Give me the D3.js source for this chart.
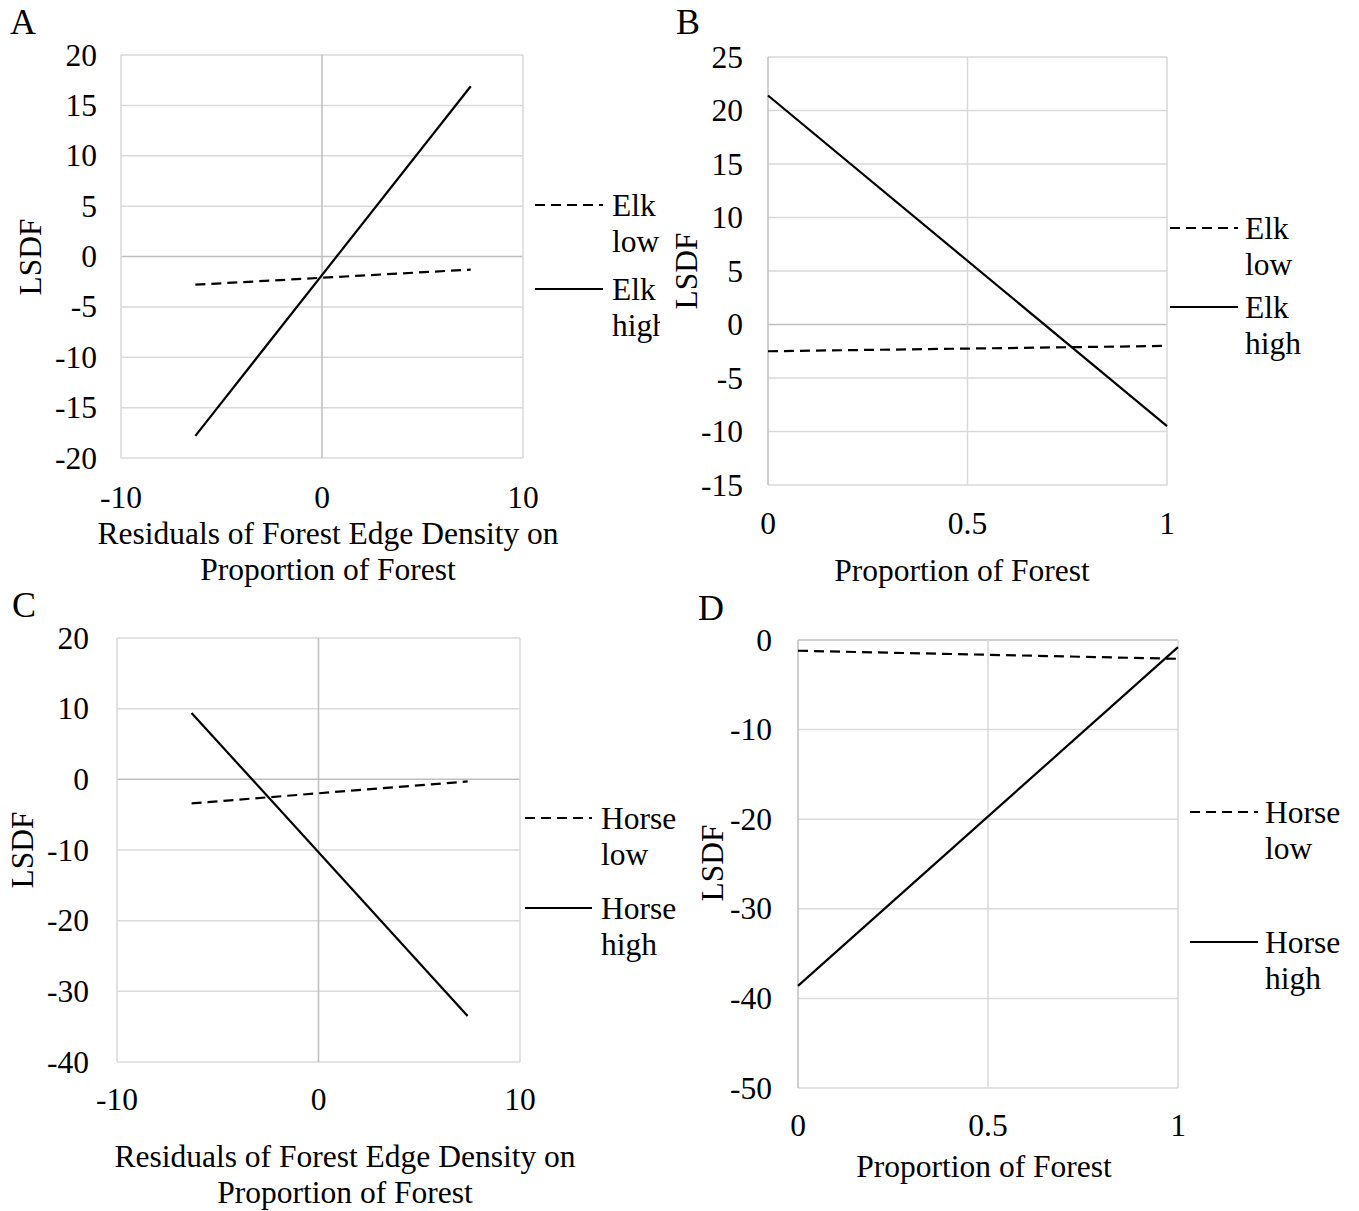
<!DOCTYPE html>
<html>
<head>
<meta charset="utf-8">
<script src="https://cdn.jsdelivr.net/npm/d3@7"></script>
<style>
body { margin: 0; background: #fff; }
text { font-family: "Liberation Serif", "Times New Roman", serif; fill: #000; }
</style>
</head>
<body>
<div id="chart"></div>
<script>
// ticks
const resTicks = [-10, 0, 10];
const propTicks = [0, 0.5, 1];
const yTicksA = [-20, -15, -10, -5, 0, 5, 10, 15, 20];
const yTicksB = [-15, -10, -5, 0, 5, 10, 15, 20, 25];
const yTicksC = [-40, -30, -20, -10, 0, 10, 20];
const yTicksD = [-50, -40, -30, -20, -10, 0];

// series
const elkLowA = [{x: -6.3, y: -2.8}, {x: 7.4, y: -1.3}];
const elkHighA = [{x: -6.3, y: -17.8}, {x: 7.4, y: 16.9}];
const elkLowB = [{x: 0, y: -2.5}, {x: 1, y: -2.0}];
const elkHighB = [{x: 0, y: 21.4}, {x: 1, y: -9.5}];
const horseLowC = [{x: -6.3, y: -3.4}, {x: 7.4, y: -0.3}];
const horseHighC = [{x: -6.3, y: 9.4}, {x: 7.4, y: -33.5}];
const horseLowD = [{x: 0, y: -1.2}, {x: 1, y: -2.1}];
const horseHighD = [{x: 0, y: -38.6}, {x: 1, y: -0.8}];

const legendElk = [["Elk", "low"], ["Elk", "high"]];
const legendHorse = [["Horse", "low"], ["Horse", "high"]];
const titleRes = ["Residuals of Forest Edge Density on", "Proportion of Forest"];
const titleProp = ["Proportion of Forest"];

const W = 1359, H = 1211;
const svg = d3.select("#chart").append("svg")
    .attr("width", W)
    .attr("height", H);

const FS = 31.5;
const DASH = "10,6";

function drawPanel(p) {
    const g = svg.append("g");
    const clipId = "clip" + p.letter;
    svg.append("clipPath").attr("id", clipId)
        .append("rect").attr("x", p.clip[0]).attr("y", 0)
        .attr("width", p.clip[1] - p.clip[0]).attr("height", H);
    g.attr("clip-path", `url(#${clipId})`);

    const x = d3.scaleLinear().domain(p.xDomain).range([p.left, p.right]);
    const y = d3.scaleLinear().domain(p.yDomain).range([p.bottom, p.top]);

    // gridlines
    g.selectAll(".hg").data(p.yTicks).join("line")
        .attr("x1", p.left).attr("x2", p.right)
        .attr("y1", d => y(d)).attr("y2", d => y(d))
        .attr("stroke", d => d === 0 ? "#bfbfbf" : "#d9d9d9")
        .attr("stroke-width", 1.5);
    g.selectAll(".vg").data(p.xTicks).join("line")
        .attr("y1", p.top).attr("y2", p.bottom)
        .attr("x1", d => x(d)).attr("x2", d => x(d))
        .attr("stroke", d => d === 0 ? "#bfbfbf" : "#d9d9d9")
        .attr("stroke-width", 1.5);

    // tick labels
    g.selectAll(".yl").data(p.yTicks).join("text")
        .attr("x", p.yLabelX).attr("y", d => y(d))
        .attr("text-anchor", "end").attr("dominant-baseline", "central")
        .attr("font-size", FS)
        .text(d => d);
    g.selectAll(".xl").data(p.xTicks).join("text")
        .attr("x", d => x(d)).attr("y", p.xLabelY)
        .attr("text-anchor", "middle").attr("dominant-baseline", "central")
        .attr("font-size", FS)
        .text(d => d);

    // axis titles
    g.selectAll(".xt").data(p.title).join("text")
        .attr("x", p.titleX).attr("y", (d, i) => p.titleY + i * 36)
        .attr("text-anchor", "middle").attr("dominant-baseline", "central")
        .attr("font-size", FS)
        .text(d => d);
    g.append("text")
        .attr("transform", `translate(${p.yTitleX},${p.yTitleY}) rotate(-90)`)
        .attr("text-anchor", "middle").attr("dominant-baseline", "central")
        .attr("font-size", FS)
        .text("LSDF");

    // panel letter
    g.append("text")
        .attr("x", p.lx).attr("y", p.ly)
        .attr("dominant-baseline", "central")
        .attr("font-size", 36)
        .text(p.letter);

    // lines
    const line = d3.line().x(d => x(d.x)).y(d => y(d.y));
    g.append("path").datum(p.low).attr("d", line)
        .attr("fill", "none").attr("stroke", "#000").attr("stroke-width", 2.2)
        .attr("stroke-dasharray", DASH);
    g.append("path").datum(p.high).attr("d", line)
        .attr("fill", "none").attr("stroke", "#000").attr("stroke-width", 2.2);

    // legend
    p.legend.forEach(function(lab, i) {
        const ly = p.legY[i];
        g.append("line")
            .attr("x1", p.legX1).attr("x2", p.legX2)
            .attr("y1", ly).attr("y2", ly)
            .attr("stroke", "#000").attr("stroke-width", 2.2)
            .attr("stroke-dasharray", i === 0 ? DASH : null);
        lab.forEach(function(t, j) {
            g.append("text")
                .attr("x", p.legTX).attr("y", ly + j * 36)
                .attr("dominant-baseline", "central")
                .attr("font-size", FS)
                .text(t);
        });
    });
}

drawPanel({
    letter: "A", lx: 10, ly: 22, clip: [0, 660],
    left: 121, right: 523, top: 55, bottom: 458,
    xDomain: [-10, 10], yDomain: [-20, 20], xTicks: resTicks, yTicks: yTicksA,
    yLabelX: 97, xLabelY: 497, title: titleRes, titleX: 328, titleY: 533,
    yTitleX: 30, yTitleY: 257,
    low: elkLowA, high: elkHighA,
    legend: legendElk, legX1: 535, legX2: 603, legTX: 612, legY: [205, 289]
});

drawPanel({
    letter: "B", lx: 676, ly: 22, clip: [660, W],
    left: 768, right: 1167, top: 57, bottom: 485,
    xDomain: [0, 1], yDomain: [-15, 25], xTicks: propTicks, yTicks: yTicksB,
    yLabelX: 743, xLabelY: 523, title: titleProp, titleX: 962, titleY: 570,
    yTitleX: 686, yTitleY: 271,
    low: elkLowB, high: elkHighB,
    legend: legendElk, legX1: 1170, legX2: 1238, legTX: 1245, legY: [228, 307]
});

drawPanel({
    letter: "C", lx: 12, ly: 605, clip: [0, 690],
    left: 117, right: 520, top: 638, bottom: 1062,
    xDomain: [-10, 10], yDomain: [-40, 20], xTicks: resTicks, yTicks: yTicksC,
    yLabelX: 89, xLabelY: 1099, title: titleRes, titleX: 345, titleY: 1156,
    yTitleX: 22, yTitleY: 850,
    low: horseLowC, high: horseHighC,
    legend: legendHorse, legX1: 525, legX2: 592, legTX: 601, legY: [818, 908]
});

drawPanel({
    letter: "D", lx: 698, ly: 608, clip: [690, W],
    left: 798, right: 1178, top: 640, bottom: 1088,
    xDomain: [0, 1], yDomain: [-50, 0], xTicks: propTicks, yTicks: yTicksD,
    yLabelX: 772, xLabelY: 1125, title: titleProp, titleX: 984, titleY: 1166,
    yTitleX: 712, yTitleY: 863,
    low: horseLowD, high: horseHighD,
    legend: legendHorse, legX1: 1190, legX2: 1258, legTX: 1265, legY: [812, 942]
});
</script>
</body>
</html>
